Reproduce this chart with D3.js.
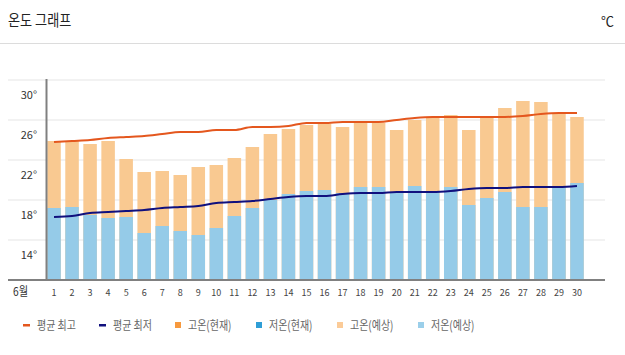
<!DOCTYPE html>
<html><head><meta charset="utf-8">
<script src="https://cdn.jsdelivr.net/npm/d3@7"></script>
<style>body{margin:0;background:#fff;} text{font-family:"Noto Sans CJK KR","Noto Sans",sans-serif;}</style>
</head><body>
<svg id="c" width="625" height="355"></svg>
<script>
const days = d3.range(1, 31);
const highs = [23.9,23.9,23.6,23.9,22.1,20.8,20.9,20.5,21.3,21.5,22.2,23.3,24.6,25.1,25.5,25.6,25.3,25.7,25.7,25.0,26.0,26.2,26.5,25.0,26.2,27.2,27.9,27.8,26.7,26.3];
const lows = [17.2,17.3,16.5,16.2,16.3,14.7,15.4,14.9,14.5,15.2,16.4,17.2,18.0,18.6,18.9,19.0,18.7,19.3,19.3,18.8,19.4,18.9,19.3,17.5,18.2,18.8,17.3,17.3,19.4,19.7];
const avgHigh = [23.8,23.9,24.0,24.2,24.3,24.4,24.6,24.8,24.8,25.0,25.0,25.3,25.3,25.4,25.7,25.7,25.8,25.8,25.8,26.0,26.2,26.3,26.3,26.3,26.3,26.3,26.4,26.6,26.7,26.7];
const avgLow = [16.3,16.4,16.7,16.8,16.9,17.0,17.2,17.3,17.4,17.7,17.8,17.9,18.1,18.3,18.4,18.4,18.6,18.7,18.7,18.8,18.8,18.8,18.9,19.1,19.2,19.2,19.3,19.3,19.3,19.4];
const yTicks = [14, 18, 22, 26, 30];
const legendItems = [
  {label:"평균 최고", type:"line", color:"#e4571e"},
  {label:"평균 최저", type:"line", color:"#10107e"},
  {label:"고온(현재)", type:"rect", color:"#f7993e"},
  {label:"저온(현재)", type:"rect", color:"#2f9ed6"},
  {label:"고온(예상)", type:"rect", color:"#fbcb98"},
  {label:"저온(예상)", type:"rect", color:"#9bcfea"}
];

const svg = d3.select("#c");
const x = d3.scaleBand().domain(days).range([45, 586]).paddingInner(0.25).paddingOuter(0.125);
const y = d3.scaleLinear().domain([10, 30]).range([280, 80]);

// header
svg.append("text").attr("transform","translate(8,26) scale(0.82,1)").attr("font-size", 16).attr("fill", "#222").text("온도 그래프");
svg.append("text").attr("x", 614).attr("y", 26).attr("font-size", 13).attr("fill", "#222").attr("text-anchor","end").text("℃");
svg.append("line").attr("x1",0).attr("x2",625).attr("y1",43.5).attr("y2",43.5).attr("stroke","#dcdcdc");

// grid
svg.append("g").selectAll("line").data(yTicks).join("line")
  .attr("x1", 8).attr("x2", 605).attr("y1", d=>y(d)).attr("y2", d=>y(d))
  .attr("stroke", "#eeeeee").attr("stroke-width", 1.5);
svg.append("g").selectAll("text").data(yTicks).join("text")
  .attr("x", 37).attr("y", d=>y(d)+19).attr("text-anchor","end")
  .attr("font-size", 11).attr("fill","#333").text(d=>d+"°");

// bars
svg.append("g").selectAll("rect").data(days).join("rect")
  .attr("x", d=>x(d)).attr("width", x.bandwidth())
  .attr("y", (d,i)=>y(highs[i])).attr("height", (d,i)=>y(10)-y(highs[i]))
  .attr("fill", "#f9c991");
svg.append("g").selectAll("rect").data(days).join("rect")
  .attr("x", d=>x(d)).attr("width", x.bandwidth())
  .attr("y", (d,i)=>y(lows[i])).attr("height", (d,i)=>y(10)-y(lows[i]))
  .attr("fill", "#95cbe8");

// axes
svg.append("line").attr("x1",8).attr("x2",605).attr("y1",280).attr("y2",280).attr("stroke","#808080").attr("stroke-width",2);
svg.append("line").attr("x1",46.5).attr("x2",46.5).attr("y1",79).attr("y2",280).attr("stroke","#808080").attr("stroke-width",2);

// lines
const cx = d => x(d) + x.bandwidth()/2;
const lineGen = arr => d3.line().x(d=>cx(d)).y((d,i)=>y(arr[i])).curve(d3.curveMonotoneX)(days);
svg.append("path").attr("d", lineGen(avgHigh)).attr("fill","none").attr("stroke","#e4571e").attr("stroke-width",2);
svg.append("path").attr("d", lineGen(avgLow)).attr("fill","none").attr("stroke","#10107e").attr("stroke-width",2);

// x labels
svg.append("text").attr("transform","translate(13,296) scale(0.85,1)").attr("font-size", 12).attr("fill","#333").text("6월");
svg.append("g").selectAll("text").data(days).join("text")
  .attr("x", d=>cx(d)).attr("y", 296).attr("text-anchor","middle")
  .attr("font-size", 9).attr("fill","#444").text(d=>d);

// legend
const legX = [23, 99, 175, 256, 337, 418];
const lg = svg.append("g").selectAll("g").data(legendItems).join("g")
  .attr("transform", (d,i)=>`translate(${legX[i]},325)`);
lg.each(function(d){
  const g = d3.select(this);
  if (d.type === "line") g.append("rect").attr("x",0).attr("y",-1).attr("width",7).attr("height",2.5).attr("fill",d.color);
  else g.append("rect").attr("x",0).attr("y",-3).attr("width",6).attr("height",6).attr("fill",d.color);
});
lg.append("text").attr("transform", d=>`translate(${d.type==="line"?14:13},4.5) scale(0.8,1)`)
  .attr("font-size", 12.5).attr("fill","#666").text(d=>d.label);
</script>
</body></html>
